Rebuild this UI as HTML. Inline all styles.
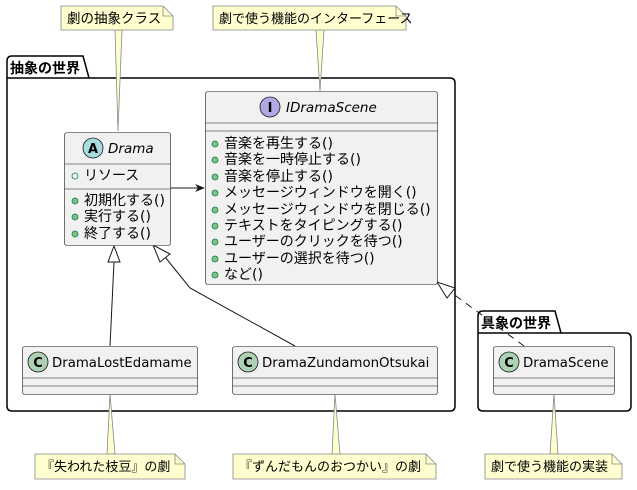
<!DOCTYPE html>
<html><head><meta charset="utf-8"><style>
html,body{margin:0;padding:0;background:#fff}
svg text{font-family:"DejaVu Sans","Noto Sans CJK JP",sans-serif;fill:#000}
</style></head><body>
<svg width="637" height="485" viewBox="0 0 637 485" xmlns="http://www.w3.org/2000/svg">
<path d="M7,78 L7,61 Q7,56 12,56 L83,56 L89,78 L450,78 Q455,78 455,83 L455,406 Q455,411 450,411 L12,411 Q7,411 7,406 Z" fill="none" stroke="#000" stroke-width="1.5"/>
<line x1="7" y1="78" x2="89" y2="78" stroke="#000" stroke-width="1.5"/>
<text x="10" y="73" font-size="14" font-weight="bold">抽象の世界</text>
<path d="M478,333 L478,316 Q478,311 483,311 L555,311 L561,333 L626,333 Q631,333 631,338 L631,406 Q631,411 626,411 L483,411 Q478,411 478,406 Z" fill="none" stroke="#000" stroke-width="1.5"/>
<line x1="478" y1="333" x2="561" y2="333" stroke="#000" stroke-width="1.5"/>
<text x="481" y="328" font-size="14" font-weight="bold">具象の世界</text>

<polygon points="115,30 122,30 118,131" fill="#fefece" stroke="#888" stroke-width="0.8"/>
<polygon points="316,30 324,30 320,91" fill="#fefece" stroke="#888" stroke-width="0.8"/>
<polygon points="110,394 107,454 115,454" fill="#fefece" stroke="#888" stroke-width="0.8"/>
<polygon points="335,394 332,454 340,454" fill="#fefece" stroke="#888" stroke-width="0.8"/>
<polygon points="554,394 550,454 558,454" fill="#fefece" stroke="#888" stroke-width="0.8"/>

<path d="M61,6 L163,6 L173,16 L173,30 L61,30 Z" fill="#fefece" stroke="#888" stroke-width="0.8"/>
<path d="M163,6 L163,16 L173,16" fill="none" stroke="#888" stroke-width="0.8"/>
<text x="67" y="23" font-size="13.5">劇の抽象クラス</text>
<path d="M213,6 L396,6 L406,16 L406,30 L213,30 Z" fill="#fefece" stroke="#888" stroke-width="0.8"/>
<path d="M396,6 L396,16 L406,16" fill="none" stroke="#888" stroke-width="0.8"/>
<text x="219" y="23" font-size="13">劇で使う機能のインターフェース</text>

<path d="M35,454 L175,454 L185,464 L185,479 L35,479 Z" fill="#fefece" stroke="#888" stroke-width="0.8"/>
<path d="M175,454 L175,464 L185,464" fill="none" stroke="#888" stroke-width="0.8"/>
<text x="41" y="471" font-size="13">『失われた枝豆』の劇</text>
<path d="M233,454 L426,454 L436,464 L436,479 L233,479 Z" fill="#fefece" stroke="#888" stroke-width="0.8"/>
<path d="M426,454 L426,464 L436,464" fill="none" stroke="#888" stroke-width="0.8"/>
<text x="239" y="471" font-size="13">『ずんだもんのおつかい』の劇</text>
<path d="M485,454 L612,454 L622,464 L622,479 L485,479 Z" fill="#fefece" stroke="#888" stroke-width="0.8"/>
<path d="M612,454 L612,464 L622,464" fill="none" stroke="#888" stroke-width="0.8"/>
<text x="491" y="471" font-size="13">劇で使う機能の実装</text>

<line x1="170" y1="188" x2="203" y2="188" stroke="#181818"/>
<polygon points="205,188 195,184 198,188 195,192" fill="#181818"/>
<line x1="110" y1="346" x2="114" y2="262" stroke="#181818"/>
<polygon points="114,246 108,262 120,262" fill="#fff" stroke="#181818"/>
<polyline points="295,346 190,288 165,257" fill="none" stroke="#181818"/>
<polygon points="153,245 160,262 170,254" fill="#fff" stroke="#181818"/>
<line x1="524" y1="346" x2="452" y2="293" stroke="#181818" stroke-dasharray="7,6"/>
<polygon points="437,282 447,298 455,288" fill="#fff" stroke="#181818"/>

<rect x="205.5" y="91.5" width="232" height="193" rx="2.5" fill="#f1f1f1" stroke="#181818" stroke-width="0.6"/>
<line x1="205.5" y1="123" x2="437.5" y2="123" stroke="#181818" stroke-width="0.6"/>
<line x1="205.5" y1="131" x2="437.5" y2="131" stroke="#181818" stroke-width="0.6"/>
<circle cx="270" cy="107" r="10" fill="#b4a7e5" stroke="#181818" stroke-width="0.8"/>
<text x="270" y="112" font-size="13" font-weight="bold" text-anchor="middle">I</text>
<text x="286" y="112" font-size="13.5" font-style="italic">IDramaScene</text>
<g font-size="14">
<text x="224" y="148">音楽を再生する()</text>
<text x="224" y="164">音楽を一時停止する()</text>
<text x="224" y="181">音楽を停止する()</text>
<text x="224" y="197">メッセージウィンドウを開く()</text>
<text x="224" y="214">メッセージウィンドウを閉じる()</text>
<text x="224" y="230">テキストをタイピングする()</text>
<text x="224" y="246">ユーザーのクリックを待つ()</text>
<text x="224" y="263">ユーザーの選択を待つ()</text>
<text x="224" y="279">など()</text>
</g>
<g fill="#84be84" stroke="#038048" stroke-width="0.8">
<circle cx="215" cy="144" r="3"/><circle cx="215" cy="160" r="3"/><circle cx="215" cy="177" r="3"/>
<circle cx="215" cy="193" r="3"/><circle cx="215" cy="210" r="3"/><circle cx="215" cy="226" r="3"/>
<circle cx="215" cy="242" r="3"/><circle cx="215" cy="259" r="3"/><circle cx="215" cy="275" r="3"/>
</g>

<rect x="64.5" y="132.5" width="106" height="113" rx="2.5" fill="#f1f1f1" stroke="#181818" stroke-width="0.6"/>
<line x1="64.5" y1="164" x2="170.5" y2="164" stroke="#181818" stroke-width="0.6"/>
<line x1="64.5" y1="189" x2="170.5" y2="189" stroke="#181818" stroke-width="0.6"/>
<circle cx="93" cy="148" r="10" fill="#a9dcdf" stroke="#181818" stroke-width="0.8"/>
<text x="93" y="153" font-size="13" font-weight="bold" text-anchor="middle">A</text>
<text x="108" y="153" font-size="13.5" font-style="italic">Drama</text>
<circle cx="75" cy="176" r="3" fill="none" stroke="#038048" stroke-width="0.8"/>
<g font-size="14">
<text x="84" y="180">リソース</text>
<text x="84" y="205">初期化する()</text>
<text x="84" y="221">実行する()</text>
<text x="84" y="238">終了する()</text>
</g>
<g fill="#84be84" stroke="#038048" stroke-width="0.8">
<circle cx="75" cy="201" r="3"/><circle cx="75" cy="217" r="3"/><circle cx="75" cy="234" r="3"/>
</g>

<g>
<rect x="22.5" y="346.5" width="175" height="48" rx="2.5" fill="#f1f1f1" stroke="#181818" stroke-width="0.6"/>
<line x1="22.5" y1="378" x2="197.5" y2="378" stroke="#181818" stroke-width="0.6"/>
<line x1="22.5" y1="386" x2="197.5" y2="386" stroke="#181818" stroke-width="0.6"/>
<circle cx="38" cy="362" r="10" fill="#add1b2" stroke="#181818" stroke-width="0.8"/>
<text x="38" y="367" font-size="13" font-weight="bold" text-anchor="middle">C</text>
<text x="52" y="367" font-size="13.3">DramaLostEdamame</text>
</g>
<g>
<rect x="232.5" y="346.5" width="205" height="48" rx="2.5" fill="#f1f1f1" stroke="#181818" stroke-width="0.6"/>
<line x1="232.5" y1="378" x2="437.5" y2="378" stroke="#181818" stroke-width="0.6"/>
<line x1="232.5" y1="386" x2="437.5" y2="386" stroke="#181818" stroke-width="0.6"/>
<circle cx="248" cy="362" r="10" fill="#add1b2" stroke="#181818" stroke-width="0.8"/>
<text x="248" y="367" font-size="13" font-weight="bold" text-anchor="middle">C</text>
<text x="262" y="367" font-size="13.3">DramaZundamonOtsukai</text>
</g>
<g>
<rect x="493.5" y="346.5" width="121" height="48" rx="2.5" fill="#f1f1f1" stroke="#181818" stroke-width="0.6"/>
<line x1="493.5" y1="378" x2="614.5" y2="378" stroke="#181818" stroke-width="0.6"/>
<line x1="493.5" y1="386" x2="614.5" y2="386" stroke="#181818" stroke-width="0.6"/>
<circle cx="509" cy="362" r="10" fill="#add1b2" stroke="#181818" stroke-width="0.8"/>
<text x="509" y="367" font-size="13" font-weight="bold" text-anchor="middle">C</text>
<text x="523" y="367" font-size="13.3">DramaScene</text>
</g>
</svg>
</body></html>
